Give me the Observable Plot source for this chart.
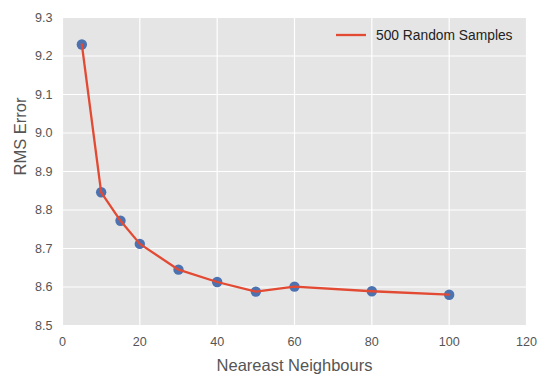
<!DOCTYPE html>
<html>
<head>
<meta charset="utf-8">
<script src="https://cdn.jsdelivr.net/npm/d3@7"></script>
<script src="https://cdn.jsdelivr.net/npm/@observablehq/plot@0.6"></script>
<style>
  body { margin: 0; background: #fff; font-family: "Liberation Sans", Arial, sans-serif; }
  #wrap { position: relative; width: 547px; height: 382px; }
  #legend { position: absolute; left: 336px; top: 27px; display: flex; align-items: center; font-size: 13.8px; color: #222; }
  #legend svg { margin-right: 10px; }
</style>
</head>
<body>
<div id="wrap"></div>
<script>
const neighbours = [5, 10, 15, 20, 30, 40, 50, 60, 80, 100];
const rmsError = [9.230, 8.846, 8.772, 8.712, 8.645, 8.613, 8.588, 8.601, 8.589, 8.580];
const xTicks = [0, 20, 40, 60, 80, 100, 120];
const yTicks = [8.5, 8.6, 8.7, 8.8, 8.9, 9.0, 9.1, 9.2, 9.3];
const seriesName = "500 Random Samples";
const xLabel = "Neareast Neighbours";
const yLabel = "RMS Error";

const data = neighbours.map((k, i) => ({k, rms: rmsError[i]}));

const chart = Plot.plot({
  width: 547,
  height: 382,
  marginLeft: 62,
  marginRight: 21,
  marginTop: 17,
  marginBottom: 57,
  style: {fontFamily: "'Liberation Sans', Arial, sans-serif", background: "white"},
  x: {domain: [0, 120]},
  y: {domain: [8.5, 9.3]},
  marks: [
    Plot.frame({fill: "#E5E5E5", stroke: null}),
    Plot.gridX(xTicks, {stroke: "white", strokeOpacity: 1, strokeWidth: 1.2}),
    Plot.gridY(yTicks, {stroke: "white", strokeOpacity: 1, strokeWidth: 1.2}),
    Plot.axisX(xTicks, {tickSize: 0, tickPadding: 12, fontSize: 12.6, fill: "#555", label: null}),
    Plot.axisY(yTicks, {tickSize: 0, tickPadding: 10, fontSize: 12.6, fill: "#555", label: null, tickFormat: d3.format(".1f")}),
    Plot.text([xLabel], {frameAnchor: "bottom", lineAnchor: "bottom", dy: 45, fontSize: 16.5, fill: "#555"}),
    Plot.text([yLabel], {frameAnchor: "left", lineAnchor: "bottom", rotate: -90, dx: -37, dy: 4, fontSize: 16.5, fill: "#555"}),
    Plot.dot(data, {x: "k", y: "rms", r: 5.2, fill: "#4C72B0", stroke: null}),
    Plot.line(data, {x: "k", y: "rms", stroke: "#E24A33", strokeWidth: 2.3})
  ]
});

const wrap = document.getElementById("wrap");
wrap.appendChild(chart);
const legend = document.createElement("div");
legend.id = "legend";
legend.innerHTML = `<svg width="30" height="16"><line x1="0" x2="30" y1="8" y2="8" stroke="#E24A33" stroke-width="2.3"/></svg><span></span>`;
legend.querySelector("span").textContent = seriesName;
wrap.appendChild(legend);
</script>
</body>
</html>
